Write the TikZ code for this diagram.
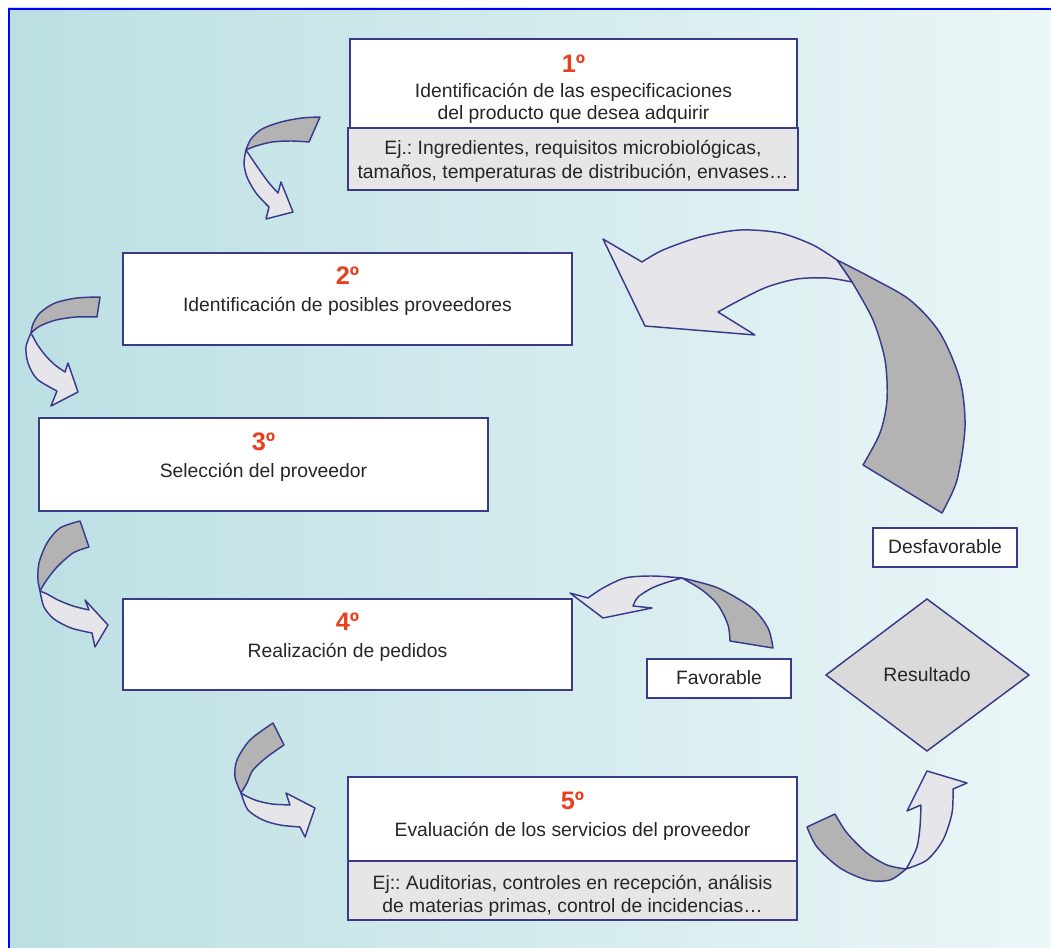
\documentclass[tikz,border=0pt]{standalone}
\usepackage{fontspec}
\setmainfont{Liberation Sans}
\definecolor{navy}{HTML}{3A3A8C}
\definecolor{numred}{HTML}{E8401C}
\definecolor{txt}{HTML}{262626}
\definecolor{bgl}{HTML}{BCDFE3}
\definecolor{bgr}{HTML}{EBF6F7}
\definecolor{darkg}{HTML}{B3B3B3}
\definecolor{lightg}{HTML}{E6E6EA}
\definecolor{subg}{HTML}{E6E6E6}
\definecolor{diag}{HTML}{DADADA}
\begin{document}
\frenchspacing
\begin{tikzpicture}[x=0.75pt,y=-0.75pt,
  boxst/.style={draw=navy, line width=1.1pt, fill=white},
  subst/.style={draw=navy, line width=1.1pt, fill=subg},
  numst/.style={anchor=base, inner sep=0pt, text=numred, font=\fontsize{19}{22}\selectfont\bfseries},
  txtst/.style={anchor=base, inner sep=0pt, text=txt, font=\fontsize{14.5}{17}\selectfont\frenchspacing},
  darkar/.style={draw=navy, line width=1.1pt, fill=darkg, line join=round},
  lightar/.style={draw=navy, line width=1.1pt, fill=lightg, line join=round},
]
\useasboundingbox (0,0) rectangle (1051,948);
\fill[white] (0,0) rectangle (1051,948);
\shade[left color=bgl, right color=bgr] (8,8) rectangle (1051,948);
\draw[blue, line width=2.2pt] (9,948) -- (9,9) -- (1051,9);

% Box 1
\draw[boxst] (350,39) rectangle (797,128);
\draw[subst] (348,128) rectangle (798,190);
\node[numst] (n1) at (573.5,73) {1º};
\node[txtst] (t1a) at (573.5,98) {Identificación de las especificaciones};
\node[txtst] (t1b) at (573.5,119.5) {del producto que desea adquirir};
\node[txtst] (e1a) at (573,155) {Ej.: Ingredientes, requisitos microbiológicas,};
\node[txtst] (e1b) at (573,179) {tamaños, temperaturas de distribución, envases…};

% Box 2
\draw[boxst] (123,253) rectangle (572,345);
\node[numst] (n2) at (347.5,285) {2º};
\node[txtst] (t2) at (347.5,312) {Identificación de posibles proveedores};

% Box 3
\draw[boxst] (39,418) rectangle (488,511);
\node[numst] (n3) at (263.5,451) {3º};
\node[txtst] (t3) at (263.5,478) {Selección del proveedor};

% Box 4
\draw[boxst] (123,599) rectangle (572,690);
\node[numst] (n4) at (347.5,631) {4º};
\node[txtst] (t4) at (347.5,658) {Realización de pedidos};

% Box 5
\draw[boxst] (348,777) rectangle (797,861);
\draw[subst] (348,861) rectangle (797,920);
\node[numst] (n5) at (572.5,810) {5º};
\node[txtst] (t5) at (572.5,836) {Evaluación de los servicios del proveedor};
\node[txtst] (e5a) at (572.5,889.5) {Ej:: Auditorias, controles en recepción, análisis};
\node[txtst] (e5b) at (572.5,912.5) {de materias primas, control de incidencias…};

% Favorable / Desfavorable
\draw[boxst] (647,659) rectangle (791,698);
\node[txtst] (fav) at (719,685) {Favorable};
\draw[boxst] (873,528) rectangle (1017,567);
\node[txtst] (desf) at (945,554) {Desfavorable};

% Diamond
\draw[draw=navy, line width=1.1pt, fill=diag, line join=miter] (927,599) -- (1029,675) -- (927,751) -- (826,675) -- cycle;
\node[txtst] (res) at (927,682) {Resultado};

% Arrow A (1 -> 2)
\filldraw[darkar] plot[smooth] coordinates {(320,117) (302,118) (281,122) (262,129) (251,139) (246,150)} -- plot[smooth] coordinates {(246,150) (256,146) (272,142) (291,141) (309,142)} -- cycle;
\filldraw[lightar] plot[smooth] coordinates {(246,150) (244,163) (247,177) (256,193) (269,207)} -- (266,219) -- (293,212) -- (281,182) -- plot[smooth] coordinates {(278,193) (269,183) (261,172) (254,162) (246,150)} -- cycle;

% Arrow B (2 -> 3)
\filldraw[darkar] plot[smooth] coordinates {(100,297) (77,298) (55,303) (40,313) (33,324) (31,333)} -- plot[smooth] coordinates {(31,333) (40,326) (56,320) (76,317) (97,317)} -- cycle;
\filldraw[lightar] plot[smooth] coordinates {(31,333) (26,347) (28,363) (37,379) (57,391)} -- (51,406) -- (78,392) -- (68,363) -- plot[smooth] coordinates {(65,372) (55,365) (45,355) (37,344) (31,333)} -- cycle;

% Arrow C (3 -> 4)
\filldraw[darkar] plot[smooth] coordinates {(80,521) (60,528) (47,543) (39,563) (38,580) (40,591)} -- plot[smooth] coordinates {(40,591) (46,581) (57,567) (73,553) (89,547)} -- cycle;
\filldraw[lightar] plot[smooth] coordinates {(40,591) (44,607) (54,619) (71,628) (92,633)} -- (95,647) -- (108,625) -- (85,600) -- plot[smooth] coordinates {(89,610) (73,606) (58,600) (47,594) (40,591)} -- cycle;

% Arrow D (4 -> 5)
\filldraw[darkar] plot[smooth] coordinates {(273,723) (250,740) (237,760) (235,777) (241,793)} -- plot[smooth] coordinates {(241,793) (247,783) (253,770) (267,757) (284,745)} -- cycle;
\filldraw[lightar] plot[smooth] coordinates {(241,793) (248,810) (263,820) (280,825) (300,827)} -- (305,837) -- (315,808) -- (286,793) -- plot[smooth] coordinates {(290,805) (272,804) (258,801) (248,797) (241,793)} -- cycle;

% Arrow E (5 -> Resultado)
\filldraw[darkar] plot[smooth] coordinates {(807,827) (817,847) (840,868) (867,880) (890,880) (906,869)} -- plot[smooth] coordinates {(906,869) (887,865) (867,853) (847,833) (835,814)} -- cycle;
\filldraw[lightar] plot[smooth] coordinates {(906,869) (927,860) (943,840) (952,813) (953,789)} -- (967,783) -- (927,771) -- (907,811) -- plot[smooth] coordinates {(921,805) (920,827) (917,847) (910,862) (906,869)} -- cycle;

% Arrow F (Favorable -> 4)
\filldraw[darkar] plot[smooth] coordinates {(773,648) (768,628) (752,608) (718,588) (682,578)} -- plot[smooth] coordinates {(682,578) (702,590) (718,605) (728,625) (730,641)} -- cycle;
\filldraw[lightar] plot[smooth] coordinates {(682,578) (652,576) (625,578) (603,588) (588,598)} -- (570,593) -- (603,618) -- (652,608) -- plot[smooth] coordinates {(633,606) (638,597) (652,588) (668,582) (682,578)} -- cycle;

% Arrow G (Desfavorable -> 2)
\filldraw[darkar] plot[smooth] coordinates {(942,513) (957,480) (965,427) (960,380) (940,333) (910,300) (870,277) (837,260)} -- plot[smooth] coordinates {(852,282) (873,320) (885,360) (887,400) (880,433) (863,465)} -- cycle;
\filldraw[lightar] plot[smooth] coordinates {(837,260) (813,245) (780,233) (740,230) (700,237) (663,250) (642,262)} -- (603,239) -- (645,326) -- (755,335) -- plot[smooth] coordinates {(718,312) (740,300) (767,287) (797,279) (827,278) (852,282)} -- cycle;
\end{tikzpicture}
\end{document}
